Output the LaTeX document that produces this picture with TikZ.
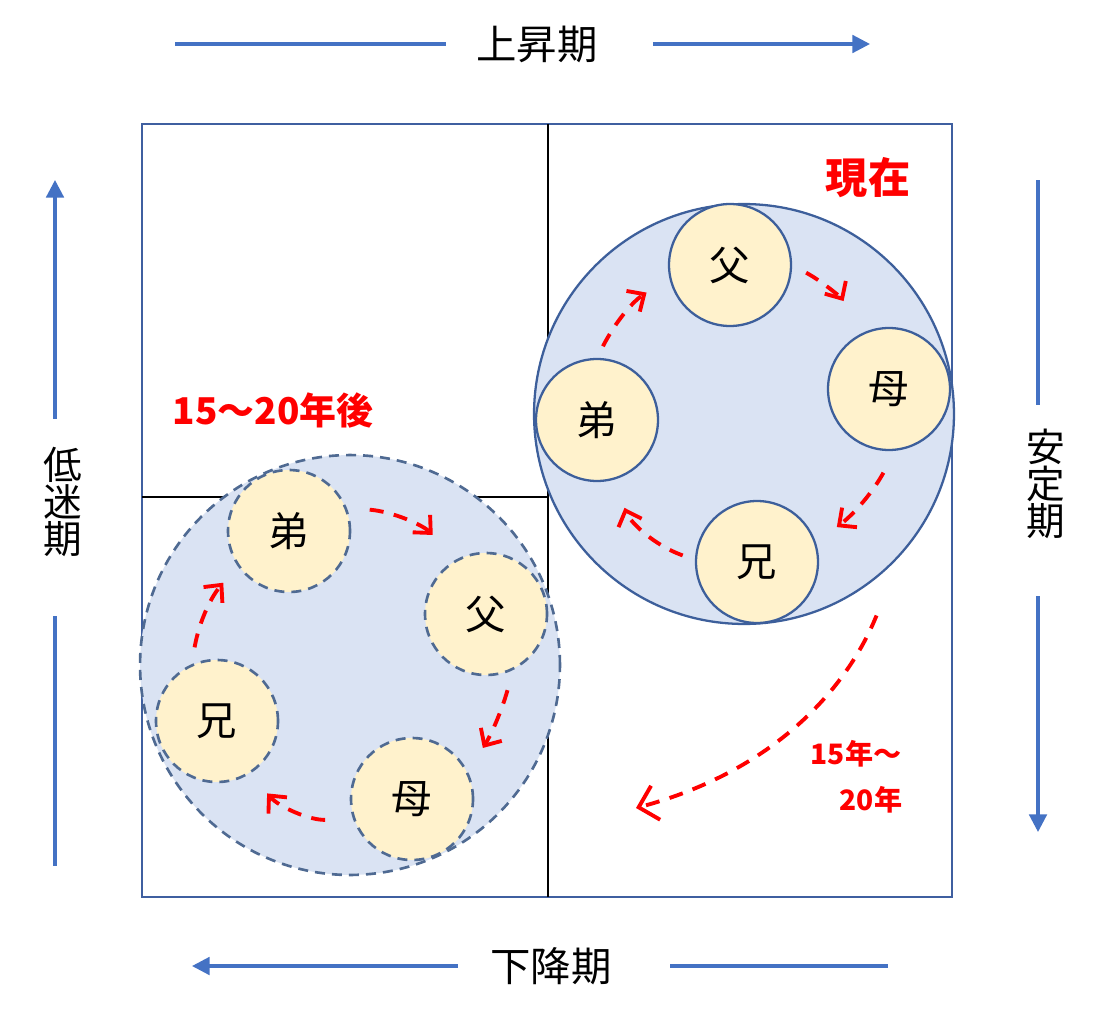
\documentclass[tikz,border=0pt]{standalone}
\usepackage{fontspec}
\setmainfont{Noto Sans CJK JP}
\usetikzlibrary{arrows.meta}

\definecolor{frameblue}{HTML}{3F5FA0}
\definecolor{axisblue}{HTML}{4472C4}
\definecolor{ringfill}{HTML}{DAE3F3}
\definecolor{ringline}{HTML}{3D5F9B}
\definecolor{dashline}{HTML}{4F6A92}
\definecolor{memberfill}{HTML}{FFF2CC}
\definecolor{handred}{HTML}{FF0000}

\tikzset{
	axisline/.style={axisblue, line width=1.8pt},
	axisarrow/.style={axisline, -{Triangle[length=10pt,width=10pt]}},
	ring/.style={circle, fill=ringfill, draw=ringline, line width=1.3pt, minimum size=8.4cm, inner sep=0pt},
	member/.style={circle, fill=memberfill, draw=ringline, line width=1.3pt, minimum size=2.44cm, inner sep=0pt, font=\fontsize{23}{23}\selectfont},
	later/.style={draw=dashline, line width=1.5pt, dash pattern=on 5.7pt off 4pt},
	passon/.style={handred, line width=2.2pt, dash pattern=on 8pt off 6pt, -{Straight Barb[length=7.5pt,width=14pt]}},
	phaselbl/.style={inner sep=0pt, font=\fontsize{23}{23}\selectfont},
	phasecol/.style={inner sep=0pt, align=center, font=\fontsize{22}{21}\selectfont},
	handnote/.style={handred, inner sep=0pt}
}

\begin{document}
\begin{tikzpicture}[x=0.02cm, y=0.02cm]
	\useasboundingbox (0,0) rectangle (1098,-1024);

	% frame
	\draw[frameblue, line width=1.6pt] (142,-124) rectangle (952,-897);
	\draw[black, line width=1.3pt] (548,-124) -- (548,-897);
	\draw[black, line width=1.3pt] (142,-497) -- (548,-497);

	% family now
	\node[ring] (now) at (744,-414) {};
	\node[member] (fuN) at (730,-265) {父};
	\node[member] (muN) at (889,-389) {母};
	\node[member] (diN) at (597,-420) {弟};
	\node[member] (xiN) at (757,-562) {兄};

	% family later
	\node[ring, later] (future) at (350,-665) {};
	\node[member, later] (diL) at (289,-531) {弟};
	\node[member, later] (fuL) at (486,-614) {父};
	\node[member, later] (xiL) at (217,-721) {兄};
	\node[member, later] (muL) at (412,-799) {母};

	% handover arrows
	\draw[passon, shorten <=0.26cm, shorten >=0.54cm] (diN.90) to[bend left=15] (fuN.192);
	\draw[passon, shorten <=0.32cm, shorten >=0.74cm] (fuN.0) to[bend left=15] (muN.115);
	\draw[passon, shorten <=0.5cm, shorten >=0.52cm] (muN.-84) to[bend left=12] (xiN.18);
	\draw[passon, shorten <=0.26cm, shorten >=0.6cm] (xiN.178) to[bend left=25] (diN.-74);

	\draw[passon, shorten <=0.34cm, shorten >=0.44cm] (xiL.114) to[bend left=15] (diL.214);
	\draw[passon, shorten <=0.46cm, shorten >=0.68cm] (diL.22) to[bend left=20] (fuL.118);
	\draw[passon, shorten <=0.42cm, shorten >=0.56cm] (fuL.-64) to[bend left=8] (muL.26);
	\draw[passon, shorten <=0.56cm, shorten >=0.52cm] (muL.199) to[bend left=25] (xiL.-58);

	\coordinate (landing) at (636,-808);
	\draw[passon, -{Straight Barb[length=10pt,width=20pt]}, shorten <=1.3cm] (now.-42) to[out=-112, in=15] (landing);

	% red notes
	\node[handnote, font=\fontsize{24}{24}\selectfont\bfseries] (nowtxt) at (868,-178) {現在};
	\node[handnote, font=\fontsize{21}{21}\selectfont\bfseries] (latertxt) at (273,-410) {15～20年後};
	\node[handnote, font=\fontsize{16}{16}\selectfont\bfseries] (spanA) at (856,-754) {15年～};
	\node[handnote, font=\fontsize{16}{16}\selectfont\bfseries] (spanB) at (871,-800) {20年};

	% phase axes
	\node[phaselbl] (rise) at (537,-44) {上昇期};
	\coordinate (riseL) at (175,-44);
	\coordinate (riseR) at (870,-44);
	\draw[axisline, shorten >=0.6cm] (riseL) -- (rise.west);
	\draw[axisarrow, shorten <=1.1cm] (rise.east) -- (riseR);

	\node[phaselbl] (fall) at (551,-966) {下降期};
	\coordinate (fallL) at (192,-966);
	\coordinate (fallR) at (888,-966);
	\draw[axisline, shorten >=1.16cm] (fallR) -- (fall.east);
	\draw[axisarrow, shorten <=0.64cm] (fall.west) -- (fallL);

	\node[phasecol] (slump) at (63,-502) {低\\迷\\期};
	\coordinate (slumpT) at (55,-180);
	\coordinate (slumpB) at (55,-866);
	\draw[axisarrow, shorten <=0.56cm] (slumpT |- slump.north) -- (slumpT);
	\draw[axisline, shorten <=1.18cm] (slumpB |- slump.south) -- (slumpB);

	\node[phasecol] (stable) at (1046,-484) {安\\定\\期};
	\coordinate (stableT) at (1038,-180);
	\coordinate (stableB) at (1038,-832);
	\draw[axisline, shorten <=0.48cm] (stableT |- stable.north) -- (stableT);
	\draw[axisarrow, shorten <=1.14cm] (stableB |- stable.south) -- (stableB);
\end{tikzpicture}
\end{document}
